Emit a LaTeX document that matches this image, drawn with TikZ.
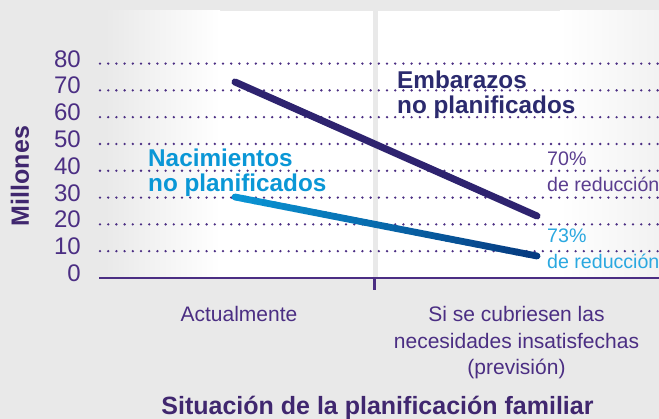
\documentclass[tikz,border=0pt]{standalone}
\usepackage{fontspec}
\setmainfont{Liberation Sans}
\usetikzlibrary{calc,positioning}
\definecolor{bggray}{HTML}{E9E9E9}
\definecolor{axpurple}{HTML}{4B2E83}
\definecolor{embline}{HTML}{2E236F}
\definecolor{embtext}{HTML}{2B2A6E}
\definecolor{nacblue}{HTML}{0A97D6}
\definecolor{nacdark}{HTML}{06397F}
\definecolor{redpurple}{HTML}{5A3D8F}
\definecolor{redblue}{HTML}{2AA8E0}
\tikzset{
  grid/.style={axpurple,line width=2.6pt,dash pattern=on 0pt off 8.2pt,line cap=round},
  axis/.style={axpurple,line width=2.5pt,line cap=butt},
  ticklbl/.style={inner sep=0pt,text=axpurple,font=\fontsize{24}{26}\selectfont},
  serlbl/.style={inner sep=0pt,align=left,font=\bfseries\fontsize{24.3}{25}\selectfont},
  redlbl/.style={inner sep=0pt,align=left,font=\fontsize{19.6}{26}\selectfont},
  catlbl/.style={inner sep=0pt,align=center,text=axpurple,font=\fontsize{21}{26.5}\selectfont}
}
\begin{document}
\begin{tikzpicture}[x=1pt,y=-1pt,line join=round,line cap=round]
\useasboundingbox (0,0) rectangle (659,419);
\fill[bggray] (0,0) rectangle (659,419);
\shade[left color=bggray,right color=white] (105,11) rectangle (220,277);
\fill[white] (220,11) rectangle (560,277);
\shade[left color=white,right color=bggray!60] (560,11) rectangle (659,277);
\fill[bggray] (372.5,11) rectangle (377.5,277);
\foreach \v in {10,20,...,80}{\draw[grid] (100,{278-2.68*\v}) -- (659,{278-2.68*\v});}
\foreach \v in {0,10,...,80}{\node[ticklbl,anchor=base east] (t\v) at (81,{281.5-2.68*\v}) {\v};}
\draw[axis] (99,278) -- (659,278);
\draw[axis] (374.5,278) -- (374.5,290);
\node[rotate=90,inner sep=0pt,text=axpurple!85!black,font=\bfseries\fontsize{25}{26}\selectfont] (ylab) at (20,176) {Millones};
\coordinate (E1) at (235,82);
\coordinate (E2) at (537,216);
\coordinate (N1) at (235,197);
\coordinate (N2) at (537,256);
\draw[embline,line width=7pt] (E1) -- (E2);
\foreach \i in {1,...,30}{\pgfmathsetmacro\c{100*(\i-0.5)/30}
  \draw[nacdark!\c!nacblue,line width=6.8pt] ($(N1)!{(\i-1)/30}!(N2)$) -- ($(N1)!{\i/30}!(N2)$);}
\node[serlbl,text=embtext,anchor=north west] (embl) at (397,70.5) {Embarazos\\no planificados};
\node[serlbl,text=nacblue,anchor=north west] (nacl) at (148,148.5) {Nacimientos\\no planificados};
\node[redlbl,text=redpurple,anchor=north west] (red70) at (547,151.5) {70\%\\de reducción};
\node[redlbl,text=redblue,anchor=north west] (red73) at (547,228.5) {73\%\\de reducción};
\node[catlbl,anchor=base] (now) at (239,322) {Actualmente};
\node[catlbl,anchor=north] (fut) at (516.5,306.5) {Si se cubriesen las\\necesidades insatisfechas\\(previsión)};
\node[inner sep=0pt,anchor=base,text=axpurple!85!black,font=\bfseries\fontsize{25}{26}\selectfont] (xlab) at (377.5,414.5) {Situación de la planificación familiar};
\end{tikzpicture}
\end{document}
